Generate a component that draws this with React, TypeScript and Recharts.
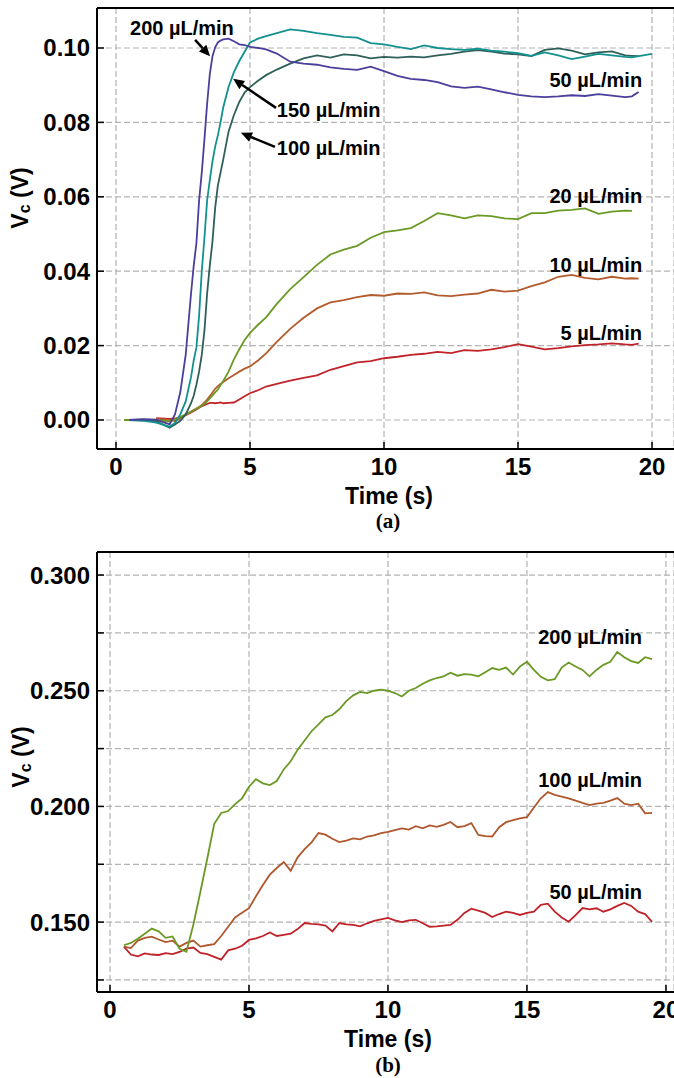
import { LineChart, Line, XAxis, YAxis, CartesianGrid, ReferenceLine, ReferenceDot } from "recharts";

const FONT = "'Liberation Sans', Arial, Helvetica, sans-serif";
const SERIF = "'Liberation Serif', 'Times New Roman', serif";

// ---- panel (a) ----
const TIME_A = [
  0.3, 0.5, 1.0, 1.5,
  2.0, 2.2, 2.4, 2.6, 2.8,
  2.9, 3.0, 3.1, 3.2, 3.3, 3.4,
  3.5, 3.6, 3.7, 3.8, 3.9, 4.0,
  4.2, 4.4, 4.6, 4.8, 5.0, 5.3, 5.6,
  6.0, 6.5, 7.0, 7.5, 8.0, 8.5, 9.0, 9.5,
  10.0, 10.5, 11.0, 11.5, 12.0, 12.5, 13.0, 13.5,
  14.0, 14.5, 15.0, 15.5, 16.0, 16.5, 17.0, 17.5,
  18.0, 18.5, 19.0, 19.25, 19.5, 20.0,
];
const PURPLE_A = [
  null, 0.0, 0.0002, 0.0001,
  -0.0012, 0.0015, 0.0075, 0.0175, 0.034,
  0.0415, 0.0475, 0.059, 0.0665, 0.0755, 0.085,
  0.093, 0.0978, 0.1002, 0.1015, 0.102, 0.1023,
  0.1025, 0.1018, 0.101, 0.1008, 0.1003, 0.1, 0.0996,
  0.0985, 0.0963, 0.0958, 0.0955, 0.0948, 0.0944, 0.0941, 0.095,
  0.0938, 0.0925, 0.0917, 0.0914, 0.0908, 0.0897, 0.0893, 0.0896,
  0.0889, 0.0881, 0.0874, 0.087, 0.0868, 0.087, 0.0873, 0.0871,
  0.0876, 0.0872, 0.0868, 0.087, 0.0882, null,
];
const TEAL_A = [
  null, 0.0, -0.0002, -0.0007,
  -0.0018, -0.0008, 0.0015, 0.005, 0.0115,
  0.016, 0.0195, 0.028, 0.04, 0.049, 0.059,
  0.0645, 0.0695, 0.0735, 0.0765, 0.08, 0.084,
  0.0895, 0.0935, 0.0965, 0.099, 0.1015, 0.1025, 0.1032,
  0.104, 0.105, 0.1046, 0.104, 0.1035, 0.103, 0.1028, 0.1013,
  0.101, 0.1003, 0.0997, 0.1007, 0.1, 0.0997, 0.0995, 0.0998,
  0.0993, 0.099, 0.0986, 0.0979, 0.0988, 0.098, 0.097, 0.0977,
  0.0984, 0.098, 0.0976, 0.0975, 0.0978, 0.0984,
];
const DARK_A = [
  null, 0.0, 0.0, -0.0003,
  -0.0021, -0.0012, -0.0002, 0.0015, 0.0045,
  0.0065, 0.0095, 0.013, 0.0175, 0.024, 0.034,
  0.0415, 0.048, 0.057, 0.063, 0.0665, 0.07,
  0.0775, 0.082, 0.0855, 0.088, 0.0895, 0.0912, 0.0927,
  0.0942, 0.0958, 0.0972, 0.098, 0.0974, 0.0983, 0.098, 0.0972,
  0.0976, 0.0974, 0.0977, 0.0975, 0.098, 0.0984, 0.099, 0.0994,
  0.099, 0.0985, 0.0983, 0.0978, 0.0995, 0.0999, 0.0993, 0.0983,
  0.0988, 0.0991, 0.098, 0.0979, 0.0978, null,
];
const OLIVE_A = [
  0.0, 0.0, 0.0001, 0.0,
  -0.0004, 0.0002, 0.0008, 0.0015, 0.0022,
  0.0026, 0.003, 0.0034, 0.0038, 0.0043, 0.005,
  0.0058, 0.0066, 0.0074, 0.0082, 0.0093, 0.0105,
  0.013, 0.0163, 0.019, 0.0215, 0.0234, 0.0256, 0.0276,
  0.0312, 0.0352, 0.0384, 0.0417, 0.0445, 0.0458, 0.0468, 0.049,
  0.0505, 0.051, 0.0516, 0.0535, 0.0556, 0.055, 0.0542, 0.055,
  0.0548, 0.0542, 0.054, 0.0556, 0.0556, 0.0563, 0.0565, 0.0569,
  0.0554, 0.056, 0.0563, 0.0562, null, null,
];
const BROWN_A = [
  null, null, null, 0.0003,
  0.0, -0.0003, 0.0005, 0.0015, 0.0023,
  0.0027, 0.0031, 0.0035, 0.004, 0.0047, 0.0055,
  0.0064, 0.0074, 0.0084, 0.0091, 0.0097, 0.0102,
  0.0112, 0.0121, 0.013, 0.0138, 0.0144, 0.016, 0.0179,
  0.021, 0.0245, 0.0275, 0.03, 0.0316, 0.0322, 0.033, 0.0336,
  0.0334, 0.034, 0.0339, 0.0343, 0.0335, 0.0333, 0.0337, 0.034,
  0.035, 0.0345, 0.0348, 0.036, 0.037, 0.0385, 0.039, 0.0382,
  0.0378, 0.0385, 0.038, 0.0381, 0.038, null,
];
const RED_A = [
  null, null, null, 0.0005,
  0.0003, 0.0004, 0.0008, 0.0013, 0.002,
  0.0024, 0.0028, 0.0033, 0.0037, 0.004, 0.0043,
  0.0046, 0.0046, 0.0045, 0.0046, 0.0047, 0.0045,
  0.0046, 0.0047, 0.0055, 0.0064, 0.0072, 0.008, 0.009,
  0.0097, 0.0106, 0.0113, 0.012, 0.0135, 0.0145, 0.0155, 0.0158,
  0.0166, 0.017, 0.0175, 0.0178, 0.0183, 0.018, 0.0188, 0.0186,
  0.019, 0.0196, 0.0204, 0.0197, 0.019, 0.0193, 0.0198, 0.0201,
  0.0203, 0.0206, 0.0203, 0.0202, 0.0205, null,
];
const X_TICKS = [0, 5, 10, 15, 20];
const Y_TICKS_A = [0, 0.02, 0.04, 0.06, 0.08, 0.1];
const NOTES_A = [
  { text: "200 µL/min", t: 2.46, v: 0.1054, anchor: "middle" },
  { text: "150 µL/min", t: 6.0, v: 0.0833, anchor: "start" },
  { text: "100 µL/min", t: 6.0, v: 0.0731, anchor: "start" },
  { text: "50 µL/min", t: 19.63, v: 0.0914, anchor: "end" },
  { text: "20 µL/min", t: 19.63, v: 0.0602, anchor: "end" },
  { text: "10 µL/min", t: 19.63, v: 0.0417, anchor: "end" },
  { text: "5 µL/min", t: 19.63, v: 0.0234, anchor: "end" },
];
const ARROWS_A = [
  { from: [2.95, 0.1022], to: [3.51, 0.0978] },
  { from: [5.97, 0.0839], to: [4.37, 0.0917] },
  { from: [5.93, 0.0734], to: [4.66, 0.0772] },
];

// ---- panel (b) ----
const TIME_B = [
  0.5, 0.75,
  1, 1.25, 1.5, 1.75, 2, 2.25, 2.5, 2.75, 3, 3.25, 3.5, 3.75,
  4, 4.25, 4.5, 4.75, 5, 5.25, 5.5, 5.75, 6, 6.25, 6.5, 6.75,
  7, 7.25, 7.5, 7.75, 8, 8.25, 8.5, 8.75, 9, 9.25, 9.5, 9.75,
  10, 10.25, 10.5, 10.75, 11, 11.25, 11.5, 11.75, 12, 12.25, 12.5, 12.75,
  13, 13.25, 13.5, 13.75, 14, 14.25, 14.5, 14.75, 15, 15.25, 15.5, 15.75,
  16, 16.25, 16.5, 16.75, 17, 17.25, 17.5, 17.75, 18, 18.25, 18.5, 18.75,
  19, 19.25, 19.5,
];
const GREEN_B = [
  0.14, 0.141,
  0.1428, 0.145, 0.1472, 0.146, 0.1432, 0.1438, 0.1385, 0.1372, 0.149, 0.163, 0.1775, 0.1925,
  0.1972, 0.198, 0.201, 0.2035, 0.2085, 0.2118, 0.21, 0.2092, 0.211, 0.216, 0.2195, 0.2245,
  0.2285, 0.2325, 0.2355, 0.2385, 0.2395, 0.242, 0.2455, 0.248, 0.2495, 0.249, 0.25, 0.2505,
  0.25, 0.249, 0.2475, 0.25, 0.2512, 0.253, 0.2545, 0.2555, 0.2562, 0.2578, 0.2565, 0.2572,
  0.257, 0.2562, 0.258, 0.2598, 0.259, 0.26, 0.257, 0.2605, 0.2625, 0.259, 0.256, 0.2545,
  0.255, 0.26, 0.2622, 0.2605, 0.259, 0.2562, 0.259, 0.2612, 0.2625, 0.2667, 0.2645, 0.2628,
  0.262, 0.2645, 0.2637,
];
const BROWN_B = [
  0.1394, 0.1388,
  0.142, 0.1432, 0.1437, 0.1425, 0.1414, 0.142, 0.1394, 0.141, 0.142, 0.1394, 0.14, 0.1405,
  0.144, 0.148, 0.152, 0.154, 0.156, 0.1612, 0.166, 0.1705, 0.1734, 0.176, 0.1722, 0.178,
  0.1815, 0.1845, 0.1885, 0.1878, 0.186, 0.1846, 0.1852, 0.1862, 0.1858, 0.187, 0.1875, 0.1885,
  0.189, 0.1898, 0.1905, 0.19, 0.1915, 0.1905, 0.1918, 0.1912, 0.192, 0.1933, 0.191, 0.1915,
  0.1928, 0.1877, 0.1872, 0.187, 0.191, 0.1932, 0.1941, 0.1948, 0.1954, 0.1995, 0.2035, 0.2062,
  0.205, 0.2042, 0.2035, 0.2025, 0.2015, 0.2006, 0.2012, 0.2015, 0.2025, 0.2036, 0.2012, 0.2006,
  0.2012, 0.197, 0.1972,
];
const RED_B = [
  0.1394, 0.136,
  0.1352, 0.1365, 0.136, 0.1358, 0.1366, 0.1362, 0.1371, 0.1385, 0.139, 0.1367, 0.1362, 0.135,
  0.1338, 0.1378, 0.1385, 0.1398, 0.1423, 0.143, 0.144, 0.1455, 0.144, 0.1445, 0.145, 0.147,
  0.1496, 0.1492, 0.149, 0.1485, 0.146, 0.1496, 0.149, 0.1488, 0.1482, 0.1495, 0.1505, 0.1512,
  0.1518, 0.1508, 0.15, 0.1508, 0.151, 0.1495, 0.148, 0.1482, 0.1485, 0.1488, 0.151, 0.154,
  0.1558, 0.155, 0.154, 0.1522, 0.1535, 0.1545, 0.154, 0.1531, 0.154, 0.1545, 0.1575, 0.158,
  0.1545, 0.152, 0.1502, 0.153, 0.1561, 0.1555, 0.156, 0.1545, 0.1555, 0.157, 0.1583, 0.157,
  0.1545, 0.1535, 0.1501,
];
const Y_TICKS_B = [0.125, 0.15, 0.175, 0.2, 0.225, 0.25, 0.275, 0.3];
const Y_LABELS_B = [0.15, 0.2, 0.25, 0.3];
const NOTES_B = [
  { text: "200 µL/min", t: 19.14, v: 0.2732, anchor: "end" },
  { text: "100 µL/min", t: 19.14, v: 0.2114, anchor: "end" },
  { text: "50 µL/min", t: 19.14, v: 0.163, anchor: "end" },
];

const dataA = TIME_A.map((t, i) => ({
  t,
  purple: PURPLE_A[i],
  teal: TEAL_A[i],
  dark: DARK_A[i],
  olive: OLIVE_A[i],
  brown: BROWN_A[i],
  red: RED_A[i],
}));
const dataB = TIME_B.map((t, i) => ({ t, green: GREEN_B[i], brown: BROWN_B[i], red: RED_B[i] }));

function XTick({ x, y, payload }: any) {
  return (
    <g>
      <line x1={x} y1={y} x2={x} y2={y - 7} stroke="#000" strokeWidth={1.5} />
      <text x={x} y={y + 17} textAnchor="middle" dominantBaseline="central" fontFamily={FONT} fontWeight="bold" fontSize={24} fill="#000">
        {payload.value}
      </text>
    </g>
  );
}

function YTick({ x, y, payload, digits, labels }: any) {
  const show = !labels || labels.some((l: number) => Math.abs(l - payload.value) < 1e-9);
  return (
    <g>
      <line x1={x} y1={y} x2={x + 7} y2={y} stroke="#000" strokeWidth={1.5} />
      {show && (
        <text x={x - 7} y={y} textAnchor="end" dominantBaseline="central" fontFamily={FONT} fontWeight="bold" fontSize={24} fill="#000">
          {payload.value.toFixed(digits)}
        </text>
      )}
    </g>
  );
}

function Arrow({ x1, y1, x2, y2 }: any) {
  const a = Math.atan2(y2 - y1, x2 - x1);
  const len = 11;
  const w = 5;
  const bx = x2 - len * Math.cos(a);
  const by = y2 - len * Math.sin(a);
  const px = -Math.sin(a) * w;
  const py = Math.cos(a) * w;
  return (
    <g>
      <line x1={x1} y1={y1} x2={bx} y2={by} stroke="#000" strokeWidth={2.5} />
      <polygon points={`${x2},${y2} ${bx + px},${by + py} ${bx - px},${by - py}`} fill="#000" />
    </g>
  );
}

function note(text: string, anchor: string) {
  return ({ cx, cy }: any) => (
    <text x={cx} y={cy} textAnchor={anchor} dominantBaseline="central" fontFamily={FONT} fontWeight="bold" fontSize={20} fill="#000">
      {text}
    </text>
  );
}

const gridProps = { stroke: "#b3b3b3", strokeDasharray: "6 3", strokeWidth: 1.2 };
const axisLine = { stroke: "#000", strokeWidth: 2 };
const LW = 1.8;

const textBase: any = { position: "absolute", fontFamily: FONT, fontWeight: "bold", color: "#000", lineHeight: 1, whiteSpace: "nowrap", transform: "translate(-50%, -50%)" };

function YTitle({ cx, cy }: { cx: number; cy: number }) {
  return (
    <div style={{ ...textBase, left: cx, top: cy, fontSize: 23, transform: "translate(-50%, -50%) rotate(-90deg)" }}>
      V<sub style={{ fontSize: 16, verticalAlign: "-0.15em" }}>c</sub> (V)
    </div>
  );
}

export default function App() {
  const xA: [number, number] = [-0.709, 20.82];
  const yA: [number, number] = [-0.0078, 0.11075];
  const xB: [number, number] = [-0.468, 20.29];
  const yB: [number, number] = [0.1198, 0.30996];
  return (
    <div style={{ position: "absolute", left: 0, top: 0, width: 674, height: 1078, background: "#fff", overflow: "hidden" }}>
      <div style={{ position: "absolute", left: 0, top: 0 }}>
        <LineChart width={674} height={540} data={dataA} margin={{ top: 8, right: 0, bottom: 61, left: 0 }}>
          <CartesianGrid {...gridProps} />
          <XAxis type="number" dataKey="t" domain={xA} ticks={X_TICKS} interval={0} allowDataOverflow height={30}
            axisLine={axisLine} tickLine={false} tickSize={0} tickMargin={0} tick={(p: any) => <XTick {...p} />} />
          <YAxis type="number" domain={yA} ticks={Y_TICKS_A} interval={0} allowDataOverflow width={97}
            axisLine={axisLine} tickLine={false} tickSize={0} tickMargin={0} tick={(p: any) => <YTick {...p} digits={2} />} />
          <ReferenceLine y={yA[1]} stroke="#000" strokeWidth={2} ifOverflow="visible" />
          <Line dataKey="red" stroke="#c0232a" strokeWidth={LW} dot={false} isAnimationActive={false} />
          <Line dataKey="brown" stroke="#b45b2d" strokeWidth={LW} dot={false} isAnimationActive={false} />
          <Line dataKey="olive" stroke="#6a9a25" strokeWidth={LW} dot={false} isAnimationActive={false} />
          <Line dataKey="dark" stroke="#2f5f59" strokeWidth={LW} dot={false} isAnimationActive={false} />
          <Line dataKey="teal" stroke="#12918f" strokeWidth={LW} dot={false} isAnimationActive={false} />
          <Line dataKey="purple" stroke="#4a3f9a" strokeWidth={LW} dot={false} isAnimationActive={false} />
          {ARROWS_A.map((a, i) => (
            <ReferenceLine key={"a" + i} segment={[{ x: a.from[0], y: a.from[1] }, { x: a.to[0], y: a.to[1] }]}
              ifOverflow="visible" shape={(p: any) => <Arrow {...p} />} />
          ))}
          {NOTES_A.map((n) => (
            <ReferenceDot key={n.text} x={n.t} y={n.v} r={0} ifOverflow="visible" shape={note(n.text, n.anchor)} />
          ))}
        </LineChart>
      </div>
      <div style={{ ...textBase, left: 389, top: 496, fontSize: 23 }}>Time (s)</div>
      <div style={{ ...textBase, left: 388, top: 521, fontSize: 21, fontFamily: SERIF }}>(a)</div>
      <YTitle cx={21} cy={198} />

      <div style={{ position: "absolute", left: 0, top: 540 }}>
        <LineChart width={674} height={538} data={dataB} margin={{ top: 12, right: 0, bottom: 56, left: 0 }}>
          <CartesianGrid {...gridProps} />
          <XAxis type="number" dataKey="t" domain={xB} ticks={X_TICKS} interval={0} allowDataOverflow height={30}
            axisLine={axisLine} tickLine={false} tickSize={0} tickMargin={0} tick={(p: any) => <XTick {...p} />} />
          <YAxis type="number" domain={yB} ticks={Y_TICKS_B} interval={0} allowDataOverflow width={97}
            axisLine={axisLine} tickLine={false} tickSize={0} tickMargin={0}
            tick={(p: any) => <YTick {...p} digits={3} labels={Y_LABELS_B} />} />
          <ReferenceLine y={yB[1]} stroke="#000" strokeWidth={2} ifOverflow="visible" />
          <Line dataKey="red" stroke="#bf2228" strokeWidth={LW} dot={false} isAnimationActive={false} />
          <Line dataKey="brown" stroke="#b0582d" strokeWidth={LW} dot={false} isAnimationActive={false} />
          <Line dataKey="green" stroke="#6a9a25" strokeWidth={LW} dot={false} isAnimationActive={false} />
          {NOTES_B.map((n) => (
            <ReferenceDot key={n.text} x={n.t} y={n.v} r={0} ifOverflow="visible" shape={note(n.text, n.anchor)} />
          ))}
        </LineChart>
      </div>
      <div style={{ ...textBase, left: 388, top: 1039, fontSize: 23 }}>Time (s)</div>
      <div style={{ ...textBase, left: 388, top: 1065, fontSize: 21, fontFamily: SERIF }}>(b)</div>
      <YTitle cx={22} cy={757} />
    </div>
  );
}
